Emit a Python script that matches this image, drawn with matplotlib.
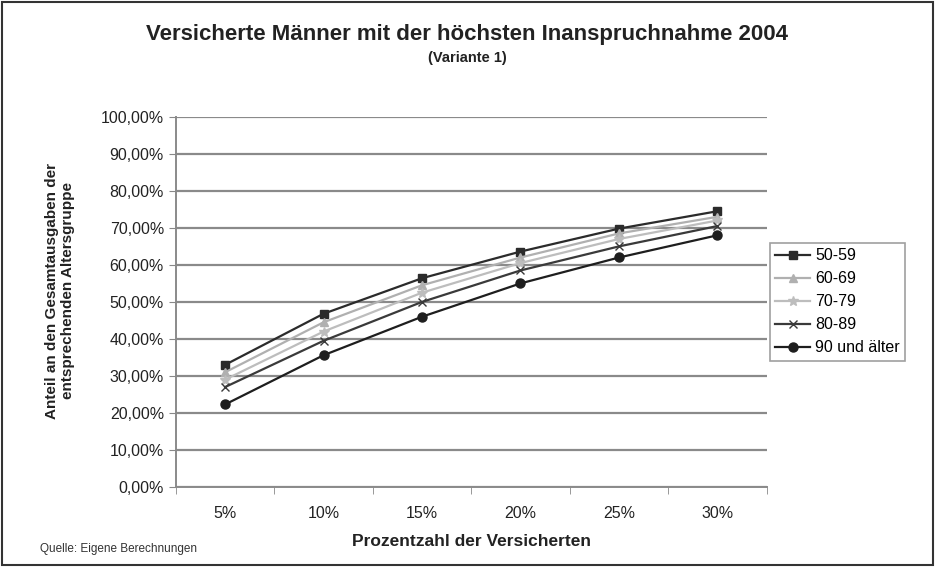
import matplotlib
matplotlib.use("Agg")
import matplotlib.pyplot as plt
from matplotlib.patches import Rectangle
from matplotlib.ticker import FuncFormatter, FixedLocator

plt.rcParams['font.family'] = ['Liberation Sans', 'DejaVu Sans']

# Daten (Anteil in %)
kategorien = ["5%", "10%", "15%", "20%", "25%", "30%"]
w_50_59 = [33.0, 46.8, 56.4, 63.6, 69.8, 74.5]
w_60_69 = [31.0, 44.5, 54.5, 62.0, 68.5, 73.0]
w_70_79 = [29.0, 42.0, 52.5, 60.5, 67.0, 72.0]
w_80_89 = [27.0, 39.5, 50.0, 58.5, 65.0, 70.5]
w_90 = [22.3, 35.6, 46.0, 55.0, 62.0, 68.0]

serien = [
    ("50-59", w_50_59, "#2b2b2b", "s", 5.5),
    ("60-69", w_60_69, "#b0b0b0", "^", 5.5),
    ("70-79", w_70_79, "#bdbdbd", "*", 7),
    ("80-89", w_80_89, "#3a3a3a", "x", 5.5),
    ("90 und älter", w_90, "#1e1e1e", "o", 6.5),
]

fig = plt.figure(figsize=(9.35, 5.67), dpi=100)
ax = fig.add_axes([0.188, 0.141, 0.632, 0.653])

x = range(len(kategorien))
for name, werte, farbe, marker, ms in serien:
    ax.plot(x, werte, color=farbe, marker=marker, markersize=ms, lw=1.6,
            label=name, zorder=3)

ax.set_ylim(0, 100)
ax.set_xlim(-0.5, len(kategorien) - 0.5)
ax.set_yticks(range(0, 101, 10))
ax.yaxis.set_major_formatter(FuncFormatter(lambda v, p: f"{v:.2f}%".replace(".", ",")))
ax.set_xticks(list(x))
ax.set_xticklabels(kategorien)
ax.xaxis.set_minor_locator(FixedLocator([i - 0.5 for i in range(len(kategorien) + 1)]))
ax.tick_params(axis="x", which="major", length=0, pad=14, labelsize=11.5, colors="#222")
ax.tick_params(axis="x", which="minor", length=5, color="#888")
ax.tick_params(axis="y", length=5, color="#888", labelsize=11.5, labelcolor="#222")

ax.grid(axis="y", color="#8a8a8a", lw=1.6, zorder=0)
for s in ["top", "right"]:
    ax.spines[s].set_visible(False)
ax.spines["left"].set_color("#8a8a8a")
ax.spines["bottom"].set_color("#8a8a8a")
ax.spines["left"].set_linewidth(1.4)
ax.spines["bottom"].set_linewidth(1.4)

ax.set_xlabel("Prozentzahl der Versicherten", fontsize=12.5, fontweight="bold",
              labelpad=9, color="#222")
ax.set_ylabel("Anteil an den Gesamtausgaben der\nentsprechenden Altersgruppe",
              fontsize=11, fontweight="bold", labelpad=12, color="#222")
ax.yaxis.set_label_coords(-0.17, 0.53)

leg = ax.legend(loc="center left", bbox_to_anchor=(1.005, 0.5), fontsize=11.5,
                frameon=True, fancybox=False, edgecolor="#888", handlelength=2.2,
                borderpad=0.35, labelspacing=0.5, handletextpad=0.3, borderaxespad=0)
leg.get_frame().set_linewidth(1.2)

fig.text(0.5, 0.94, "Versicherte Männer mit der höchsten Inanspruchnahme 2004",
         ha="center", va="center", fontsize=16, fontweight="bold", color="#222")
fig.text(0.5, 0.897, "(Variante 1)", ha="center", va="center", fontsize=10.5,
         fontweight="bold", color="#222")
fig.text(0.043, 0.032, "Quelle: Eigene Berechnungen", ha="left", va="center",
         fontsize=8.5, color="#333")

fig.patches.append(Rectangle((0.002, 0.003), 0.996, 0.993, transform=fig.transFigure,
                             fill=False, edgecolor="#333", lw=1.5))

fig.savefig("out.png", dpi=100)
